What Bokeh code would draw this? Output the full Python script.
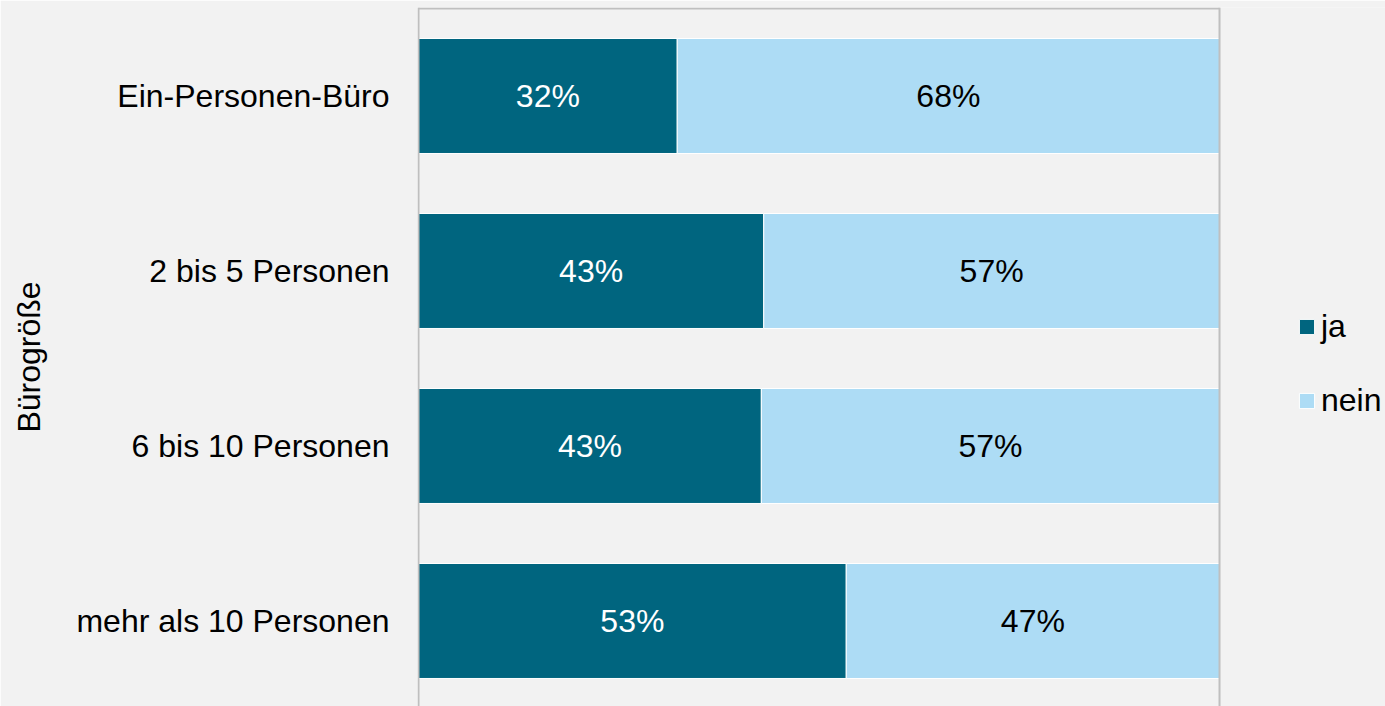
from bokeh.plotting import figure
from bokeh.models import ColumnDataSource, Range1d, FixedTicker, Legend, LegendItem, Span
from bokeh.core.properties import value
from bokeh.embed import file_html
from bokeh.resources import INLINE

categories = ["Ein-Personen-Büro", "2 bis 5 Personen", "6 bis 10 Personen", "mehr als 10 Personen"]
ja = [32.3, 43.1, 42.8, 53.4]
nein = [67.7, 56.9, 57.2, 46.6]
ja_labels = ["32%", "43%", "43%", "53%"]
nein_labels = ["68%", "57%", "57%", "47%"]
series_names = ["ja", "nein"]

FONT = "Liberation Sans"
DARK = "#00657F"
LIGHT = "#ADDCF5"
BG = "#F2F2F2"
GRID = "#BFBFBF"

n = len(categories)
ypos = [n - 1 - i for i in range(n)]

src = ColumnDataSource(dict(
    y=ypos,
    ja_left=[0] * n,
    ja_right=ja,
    nein_left=ja,
    nein_right=[a + b for a, b in zip(ja, nein)],
    ja_mid=[a / 2 for a in ja],
    nein_mid=[a + b / 2 for a, b in zip(ja, nein)],
    ja_lab=ja_labels,
    nein_lab=nein_labels,
))

p = figure(width=1385, height=706, output_backend="svg", toolbar_location=None,
           x_range=Range1d(-0.1248, 120.72), y_range=Range1d(-0.4886, 3.5057),
           min_border_left=417, min_border_right=0, min_border_top=7, min_border_bottom=0,
           background_fill_color=BG, border_fill_color=BG, outline_line_color=None)

# frame lines of the 0-100 % scale
for xv in (0, 100):
    p.add_layout(Span(location=xv, dimension="height", line_color=GRID, line_width=2))
p.segment(x0=[0], x1=[100], y0=[3.5], y1=[3.5], line_color=GRID, line_width=2)

r_ja = p.hbar(y="y", left="ja_left", right="ja_right", height=0.657, source=src,
              fill_color=DARK, line_color="white", line_width=1)
r_nein = p.hbar(y="y", left="nein_left", right="nein_right", height=0.657, source=src,
                fill_color=LIGHT, line_color="white", line_width=1)

p.text(x="ja_mid", y="y", text="ja_lab", source=src, text_align="center", text_baseline="middle",
       text_font=value(FONT), text_font_size="32px", text_color="white")
p.text(x="nein_mid", y="y", text="nein_lab", source=src, text_align="center", text_baseline="middle",
       text_font=value(FONT), text_font_size="32px", text_color="#000000")

p.xaxis.visible = False
p.xgrid.grid_line_color = None
p.ygrid.grid_line_color = None

yax = p.yaxis[0]
yax.ticker = FixedTicker(ticks=ypos)
yax.major_label_overrides = {y: c for y, c in zip(ypos, categories)}
yax.axis_line_color = None
yax.major_tick_line_color = None
yax.minor_tick_line_color = None
yax.major_tick_out = 0
yax.major_tick_in = 0
yax.major_label_standoff = 28
yax.major_label_text_font = FONT
yax.major_label_text_font_size = "32px"
yax.major_label_text_color = "#000000"
yax.axis_label = "Bürogröße"
yax.axis_label_text_font = FONT
yax.axis_label_text_font_size = "32px"
yax.axis_label_text_font_style = "normal"
yax.axis_label_text_color = "#000000"
yax.axis_label_standoff = 26

legend = Legend(items=[LegendItem(label=series_names[0], renderers=[r_ja]),
                       LegendItem(label=series_names[1], renderers=[r_nein])],
                location=(880, 287), orientation="vertical",
                glyph_width=19, glyph_height=19, label_standoff=5, spacing=37,
                padding=0, margin=0,
                label_text_font=FONT, label_text_font_size="32px", label_text_color="#000000",
                background_fill_alpha=0, border_line_color=None)
p.add_layout(legend)

html = file_html(p, INLINE)
html = html.replace("<body>", '<body style="background-color:#F2F2F2;">', 1)
open("out.html", "w").write(html)
